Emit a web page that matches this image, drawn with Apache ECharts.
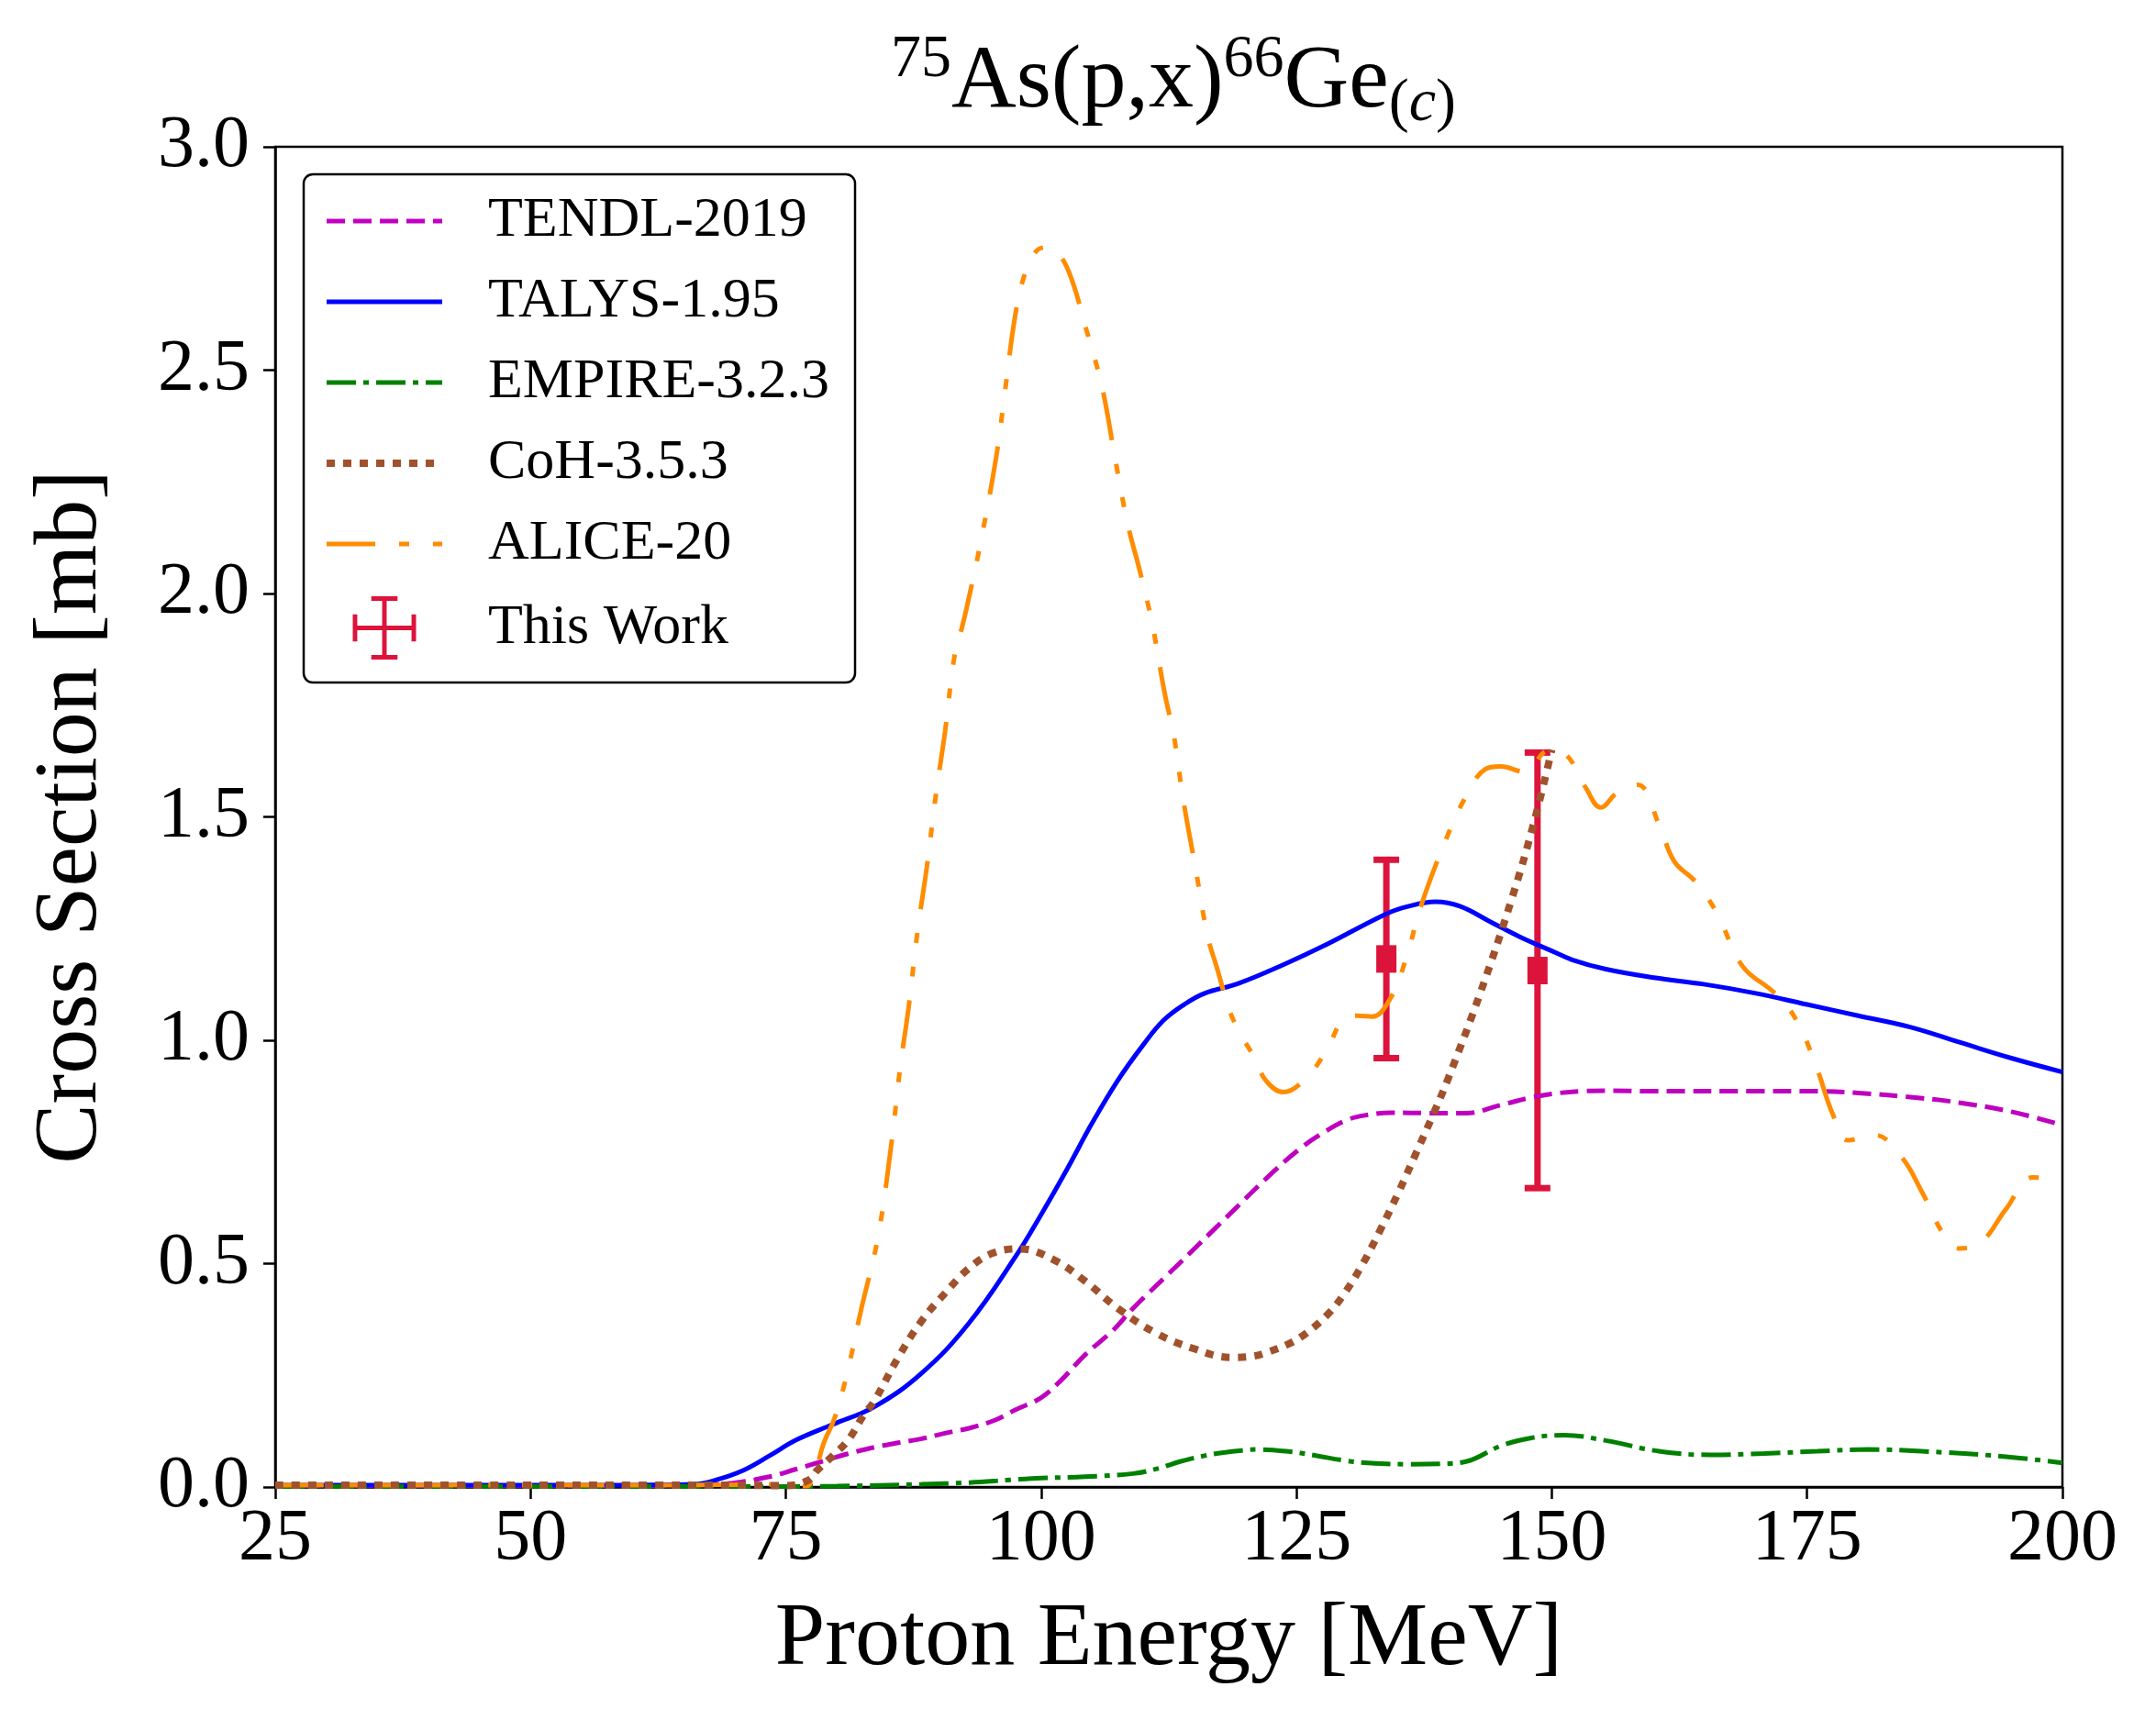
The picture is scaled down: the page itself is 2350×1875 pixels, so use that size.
<!DOCTYPE html>
<html>
<head>
<meta charset="utf-8">
<script src="https://cdn.jsdelivr.net/npm/echarts@6/dist/echarts.min.js"></script>
<style>
html,body{margin:0;padding:0;background:#fff;}
#chart{width:2350px;height:1875px;}
</style>
</head>
<body>
<div id="chart"></div>
<script>
// ---- data ----
const xTicks = [25, 50, 75, 100, 125, 150, 175, 200];
const yTicks = [0.0, 0.5, 1.0, 1.5, 2.0, 2.5, 3.0];

const tendlE  = [25, 55, 66, 69.8, 73.4, 76, 78.5, 81, 83.7, 86, 88.3, 90.9, 93, 95.5, 97.5, 100, 102, 104.3, 107, 109, 113.6, 118.2, 122.8, 125.5, 127.4, 130, 132, 134.3, 138, 141.6, 145, 148, 150, 153, 155.3, 160, 170, 175, 180, 186.3, 190, 195, 200];
const tendlXS = [0.003, 0.003, 0.004, 0.009, 0.023, 0.04, 0.057, 0.074, 0.089, 0.099, 0.108, 0.122, 0.132, 0.15, 0.173, 0.2, 0.24, 0.296, 0.35, 0.4, 0.502, 0.605, 0.707, 0.76, 0.79, 0.822, 0.833, 0.838, 0.837, 0.837, 0.855, 0.872, 0.88, 0.886, 0.887, 0.886, 0.886, 0.886, 0.882, 0.87, 0.86, 0.84, 0.81];

const talysE  = [25, 40, 55, 64, 66, 68.2, 70.8, 73.4, 76, 79.6, 83.7, 88.3, 92.9, 97.5, 100, 102.5, 105, 107.5, 110, 112, 114, 116, 119.3, 123.8, 128, 133.8, 136, 138.6, 141, 144, 147, 150, 152, 155.3, 160, 165, 170, 175, 180, 185, 190, 195, 200];
const talysXS = [0.004, 0.004, 0.004, 0.005, 0.006, 0.016, 0.037, 0.07, 0.105, 0.14, 0.18, 0.255, 0.366, 0.516, 0.61, 0.71, 0.815, 0.91, 0.99, 1.045, 1.08, 1.105, 1.127, 1.17, 1.215, 1.283, 1.30, 1.31, 1.30, 1.265, 1.23, 1.20, 1.18, 1.159, 1.14, 1.125, 1.105, 1.08, 1.055, 1.03, 0.995, 0.96, 0.929];

const empireE  = [25, 50, 75, 80, 88.3, 93, 97, 100, 104.3, 109, 111.5, 113.6, 116, 118.2, 121.3, 124.4, 127, 129.5, 132, 135.8, 139, 141.6, 145, 148, 151.2, 155.3, 160.5, 165.6, 170.8, 176, 181, 186.2, 193.9, 200];
const empireXS = [0.001, 0.001, 0.001, 0.002, 0.006, 0.01, 0.016, 0.02, 0.023, 0.03, 0.042, 0.057, 0.07, 0.078, 0.084, 0.079, 0.07, 0.06, 0.054, 0.051, 0.052, 0.057, 0.092, 0.11, 0.116, 0.104, 0.08, 0.072, 0.075, 0.08, 0.084, 0.08, 0.069, 0.054];

const cohE  = [25, 45, 60, 70, 75, 77.3, 78, 79.6, 81.1, 82.6, 83.7, 86, 88.3, 90.6, 92.9, 95.2, 97.9, 101.2, 104.3, 107.5, 111.2, 114.9, 118.6, 120.5, 122.2, 124.4, 126, 128, 129.6, 131.5, 133.2, 135, 136.8, 138.5, 139.9, 143, 146.1, 148.2, 150];
const cohXS = [0.004, 0.004, 0.004, 0.004, 0.003, 0.016, 0.036, 0.07, 0.105, 0.16, 0.194, 0.29, 0.372, 0.434, 0.489, 0.523, 0.533, 0.509, 0.461, 0.40, 0.345, 0.31, 0.29, 0.292, 0.302, 0.322, 0.345, 0.385, 0.43, 0.50, 0.575, 0.66, 0.752, 0.84, 0.917, 1.106, 1.318, 1.483, 1.65];

const aliceE  = [25, 45, 60, 70, 73, 75, 77, 77.8, 78.7, 79.8, 81, 82.4, 84, 85.3, 86.2, 87, 87.9, 88.8, 89.7, 90.6, 91.5, 92.3, 92.9, 94.1, 95.6, 96.5, 97.4, 98.3, 99.5, 100.6, 101.9, 103.1, 104.3, 105.2, 106.1, 107.3, 108.5, 109.7, 110.9, 112.1, 113, 113.9, 115.1, 116.3, 117.2, 118.4, 119.3, 120.8, 122, 123.7, 126, 128, 129.6, 131, 132.4, 134.2, 135.8, 137.1, 139.4, 141.5, 143.5, 145, 147.3, 149.7, 151.2, 153.3, 154.8, 156.4, 158.4, 160.5, 162, 164.1, 166.2, 168.7, 171.8, 173.9, 175.9, 177.5, 179, 181.6, 184.2, 186.3, 188.4, 189.9, 192, 194.5, 197.1, 200];
const aliceXS = [0.004, 0.004, 0.004, 0.005, 0.006, 0.004, 0.002, 0.03, 0.098, 0.156, 0.255, 0.40, 0.557, 0.762, 0.94, 1.07, 1.245, 1.387, 1.551, 1.693, 1.858, 1.929, 1.988, 2.118, 2.306, 2.46, 2.614, 2.708, 2.766, 2.775, 2.755, 2.696, 2.60, 2.53, 2.448, 2.295, 2.153, 2.047, 1.929, 1.776, 1.681, 1.54, 1.387, 1.233, 1.163, 1.07, 1.023, 0.964, 0.91, 0.884, 0.917, 0.98, 1.047, 1.055, 1.053, 1.094, 1.188, 1.294, 1.436, 1.542, 1.607, 1.613, 1.601, 1.648, 1.642, 1.566, 1.521, 1.554, 1.572, 1.483, 1.40, 1.354, 1.283, 1.165, 1.106, 1.047, 0.941, 0.835, 0.776, 0.788, 0.74, 0.658, 0.564, 0.534, 0.547, 0.623, 0.693, 0.688];

const expE    = [133.8, 148.6];
const expXS   = [1.182, 1.156];
const expLow  = [0.960, 0.669];
const expHigh = [1.404, 1.644];

// ---- build ----
const zip = (a, b) => a.map((v, i) => [v, b[i]]);
const FONT = "'Liberation Serif', 'Times New Roman', serif";

const chart = echarts.init(document.getElementById('chart'), null, {renderer: 'canvas'});

function lineSeries(name, E, XS, color, width, dash, z) {
  return {
    name: name, type: 'line', data: zip(E, XS), symbol: 'none',
    smooth: 0.4, z: z,
    lineStyle: {color: color, width: width, type: dash},
    itemStyle: {color: color},
    emphasis: {disabled: true}
  };
}

const crossIcon = 'path://M32.5 0h5v70h-5zM0 32.5h70v5h-70zM20.5 0h29v5h-29zM20.5 65h29v5h-29zM0 20h5v30h-5zM65 20h5v30h-5z';

const option = {
  animation: false,
  backgroundColor: '#fff',
  title: {
    left: 1274, top: 36, textAlign: 'center',
    text: '{sup|75}{n|As(p,x)}{sup|66}{n|Ge}{sub|(}{subi|c}{sub|)}',
    textStyle: {
      fontFamily: FONT, fontSize: 98, color: '#000', fontWeight: 'normal',
      rich: {
        n: {fontFamily: FONT, fontSize: 98, lineHeight: 98, color: '#000'},
        sup: {fontFamily: FONT, fontSize: 66, lineHeight: 66, padding: [0, 0, 49, 0], color: '#000'},
        sub: {fontFamily: FONT, fontSize: 66, lineHeight: 66, padding: [47, 0, 0, 0], color: '#000'},
        subi: {fontFamily: FONT, fontSize: 66, lineHeight: 66, padding: [47, 0, 0, 0], fontStyle: 'italic', color: '#000'}
      }
    }
  },
  grid: {left: 300, right: 102, top: 160, bottom: 254, show: true, borderColor: '#000', borderWidth: 2.5, containLabel: false},
  legend: {
    orient: 'vertical', left: 331, top: 190,
    itemWidth: 126, itemHeight: 69, itemGap: 26,
    padding: [20, 28, 25, 21],
    backgroundColor: '#fff', borderColor: '#000', borderWidth: 2.5, borderRadius: 10,
    textStyle: {fontFamily: FONT, fontSize: 62, color: '#000', padding: [0, 0, 0, 45]},
    lineStyle: {width: 'inherit'},
    itemStyle: {opacity: 0},
    selectedMode: false,
    data: [
      {name: 'TENDL-2019'}, {name: 'TALYS-1.95'}, {name: 'EMPIRE-3.2.3'},
      {name: 'CoH-3.5.3'}, {name: 'ALICE-20'},
      {name: 'This Work', icon: crossIcon, itemStyle: {opacity: 1, color: '#DC143C'}}
    ],
    z: 10
  },
  xAxis: {
    type: 'value', min: xTicks[0], max: xTicks[xTicks.length - 1], interval: 25,
    name: 'Proton Energy [MeV]', nameLocation: 'middle', nameGap: 118,
    nameTextStyle: {fontFamily: FONT, fontSize: 98, color: '#000'},
    axisLine: {show: true, onZero: false, lineStyle: {color: '#000', width: 2.5}},
    axisTick: {show: true, length: 13, lineStyle: {color: '#000', width: 2.5}},
    axisLabel: {fontFamily: FONT, fontSize: 80, color: '#000', margin: 18,
      formatter: v => xTicks.includes(v) ? String(v) : ''},
    splitLine: {show: false}
  },
  yAxis: {
    type: 'value', min: yTicks[0], max: yTicks[yTicks.length - 1], interval: 0.5,
    name: 'Cross Section [mb]', nameLocation: 'middle', nameGap: 173,
    nameTextStyle: {fontFamily: FONT, fontSize: 98, color: '#000'},
    axisLine: {show: true, onZero: false, lineStyle: {color: '#000', width: 2.5}},
    axisTick: {show: true, length: 13, lineStyle: {color: '#000', width: 2.5}},
    axisLabel: {fontFamily: FONT, fontSize: 80, color: '#000', margin: 28,
      formatter: v => v.toFixed(1)},
    splitLine: {show: false}
  },
  series: [
    {
      name: 'This Work', type: 'custom', z: 1,
      data: expE.map((e, i) => [e, expXS[i], expLow[i], expHigh[i]]),
      encode: {x: 0, y: [1, 2, 3]},
      itemStyle: {color: '#DC143C'},
      renderItem: function (params, api) {
        const x = api.value(0);
        const pMid = api.coord([x, api.value(1)]);
        const pLo = api.coord([x, api.value(2)]);
        const pHi = api.coord([x, api.value(3)]);
        const cw = 14;
        const st = {stroke: '#DC143C', lineWidth: 7, fill: null};
        return {
          type: 'group',
          children: [
            {type: 'line', shape: {x1: pMid[0], y1: pLo[1], x2: pMid[0], y2: pHi[1]}, style: st},
            {type: 'line', shape: {x1: pMid[0] - cw, y1: pHi[1], x2: pMid[0] + cw, y2: pHi[1]}, style: st},
            {type: 'line', shape: {x1: pMid[0] - cw, y1: pLo[1], x2: pMid[0] + cw, y2: pLo[1]}, style: st},
            {type: 'rect', shape: {x: pMid[0] - 11, y: pMid[1] - 15, width: 22, height: 30}, style: {fill: '#DC143C'}}
          ]
        };
      }
    },
    lineSeries('TENDL-2019', tendlE, tendlXS, '#BF00BF', 5, [20, 9], 2),
    lineSeries('TALYS-1.95', talysE, talysXS, '#0000FF', 5, 'solid', 2),
    lineSeries('EMPIRE-3.2.3', empireE, empireXS, '#008000', 5, [32, 8, 6, 8], 2),
    lineSeries('CoH-3.5.3', cohE, cohXS, '#A0522D', 8, [9, 9], 3),
    lineSeries('ALICE-20', aliceE, aliceXS, '#FF8C00', 5, [53, 26, 11, 26, 11, 26], 2)
  ]
};

chart.setOption(option);
</script>
</body>
</html>
